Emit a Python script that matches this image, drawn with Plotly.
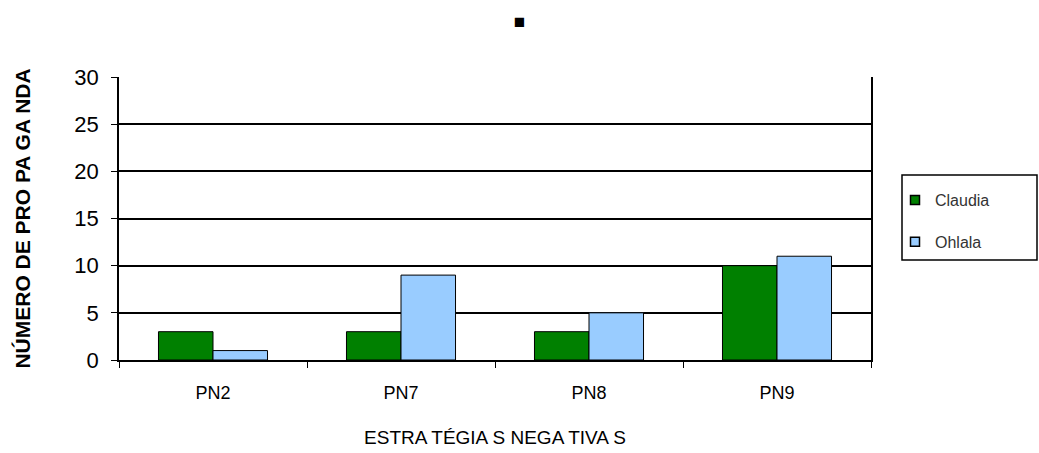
import plotly.graph_objects as go

categories = ["PN2", "PN7", "PN8", "PN9"]
claudia = [3, 3, 3, 10]
ohlala = [1, 9, 5, 11]
y_ticks = [0, 5, 10, 15, 20, 25, 30]
series_names = ["Claudia", "Ohlala"]
series_colors = ["#008000", "#99CCFF"]

fig = go.Figure()
for name, vals, col in zip(series_names, [claudia, ohlala], series_colors):
    fig.add_trace(go.Bar(x=categories, y=vals, name=name, showlegend=False,
                         marker=dict(color=col, line=dict(color="black", width=1))))
# legend entries with small square swatches
for i, (name, col) in enumerate(zip(series_names, series_colors)):
    fig.add_trace(go.Scatter(x=[None], y=[None], mode="markers", name=name,
                             legendgroup=f"g{i}",
                             marker=dict(symbol="square", size=9, color=col,
                                         line=dict(color="black", width=1.5))))

px0, px1, py0, py1 = 119, 871, 77, 360
def fx(p): return (p - px0) / (px1 - px0)
def fy(p): return (py1 - p) / (py1 - py0)

fig.update_layout(
    width=1039, height=453,
    margin=dict(l=119, r=168, t=77, b=93),
    paper_bgcolor="white", plot_bgcolor="white",
    barmode="group", bargap=0.42, bargroupgap=0,
    font=dict(family="Liberation Sans, Arial", color="black"),
    title=dict(text="■", x=0.5, xanchor="center", y=0.953, yanchor="middle",
               font=dict(size=19, color="black")),
    showlegend=True,
    legend=dict(x=fx(895), y=fy(183), xanchor="left", yanchor="top",
                borderwidth=0, bgcolor="rgba(0,0,0,0)",
                font=dict(size=16, family="Liberation Sans", color="#333"),
                tracegroupgap=18, itemwidth=30),
    shapes=[dict(type="rect", xref="paper", yref="paper",
                 x0=fx(902), x1=fx(1037), y0=fy(260), y1=fy(175),
                 line=dict(color="black", width=1.5), fillcolor="rgba(0,0,0,0)",
                 layer="above")],
)
fig.update_xaxes(
    type="category", showline=True, linecolor="black", linewidth=1.5,
    automargin=False,
    ticks="outside", tickson="boundaries", ticklen=6, tickcolor="black",
    ticklabelstandoff=16,
    tickfont=dict(size=18, family="Liberation Sans"),
    title=dict(text="ESTRA TÉGIA S NEGA TIVA S", standoff=28,
               font=dict(size=19, family="Liberation Sans")),
    showgrid=False,
)
fig.update_yaxes(
    range=[0, 30], tickvals=y_ticks, showline=True, linecolor="black", linewidth=1.5,
    mirror=True, automargin=False,
    ticks="outside", ticklen=6, tickcolor="black",
    ticklabelstandoff=8,
    tickfont=dict(size=22, family="Liberation Sans"),
    showgrid=True, gridcolor="black", gridwidth=1.5,
    title=dict(text="NÚMERO DE PRO PA GA NDA", standoff=38,
               font=dict(size=21, family="Liberation Sans", weight="bold")),
    zeroline=False,
)

fig.write_html("out.html")
